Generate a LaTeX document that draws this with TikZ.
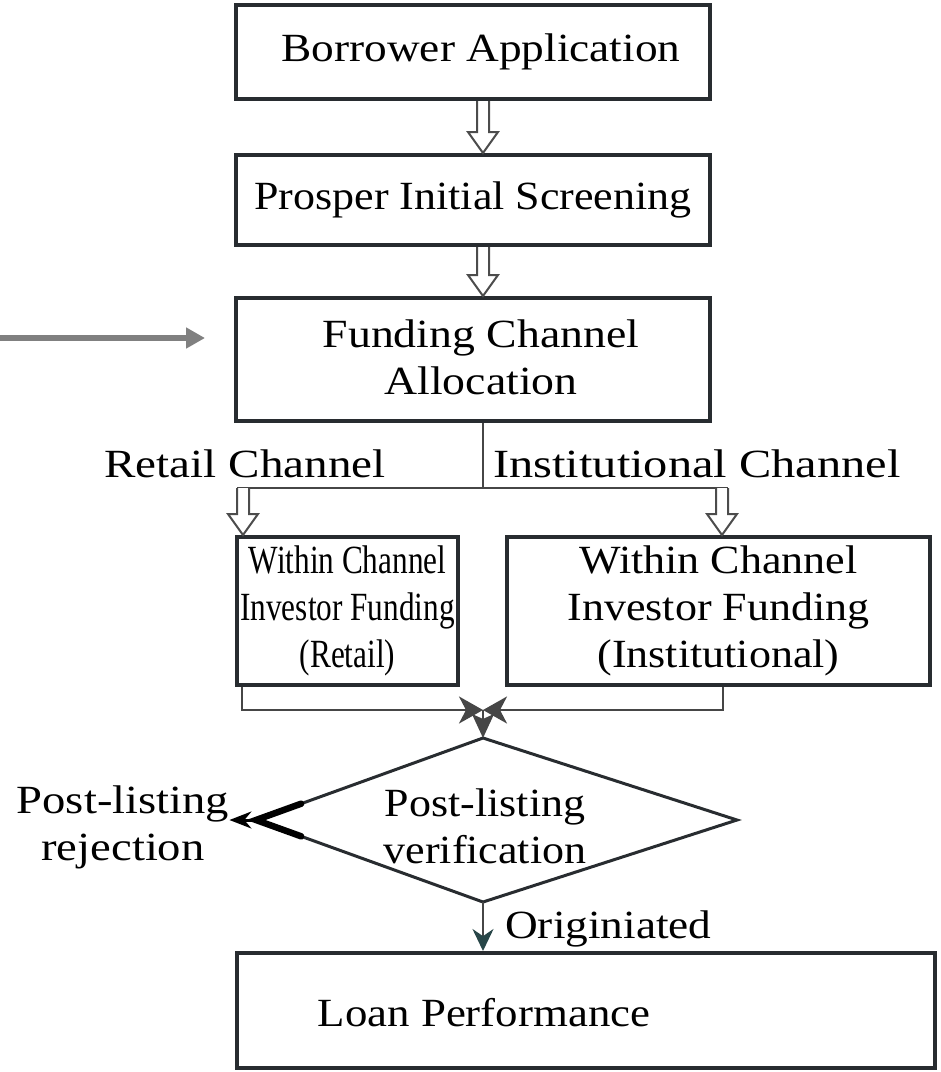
\documentclass[tikz,border=0pt]{standalone}
\usepackage{graphicx}
\usepackage{fontspec}
\setmainfont{Liberation Serif}[FakeStretch=1.1]
\usetikzlibrary{arrows.meta,shapes.geometric,calc}
\definecolor{boxline}{RGB}{40,44,48}
\definecolor{thinline}{RGB}{70,70,70}
\definecolor{grayarrow}{RGB}{128,128,128}
\definecolor{tealhead}{RGB}{40,70,72}
\newcommand\hollowarr[2]{%
  \draw[hollowarrow] ([xshift=-6pt]#1) -- ([xshift=-6pt,yshift=21pt]#2) -- ([xshift=-15pt,yshift=21pt]#2) -- (#2) -- ([xshift=15pt,yshift=21pt]#2) -- ([xshift=6pt,yshift=21pt]#2) -- ([xshift=6pt]#1);}
\begin{document}
\begin{tikzpicture}[x=1pt,y=-1pt,
  font=\fontsize{40}{47}\selectfont,
  box/.style={draw=boxline, line width=4pt, inner sep=0pt, align=center},
  lbl/.style={inner sep=0pt, align=center},
  hollowarrow/.style={draw=black!70, line width=2pt, fill=white, line join=miter},
  conn/.style={draw=thinline, line width=2.5pt},
  headarrow/.style={-{Stealth[length=24pt,width=27pt,inset=7pt]}}]
\useasboundingbox (0,0) rectangle (941,1072);

% boxes
\node[box, minimum width=474pt, minimum height=94pt] (bor) at (473,52) {};
\node[lbl] (bortxt) at (481,52) {\scalebox{1.03}[1]{Borrower Application}};
\node[box, minimum width=474pt, minimum height=90pt] (pro) at (473,200) {Prosper Initial Screening};
\node[box, minimum width=474pt, minimum height=123pt] (fund) at (473,359.5) {};
\node[lbl] (fundtxt) at (481,362) {\scalebox{1.04}[1]{\begin{tabular}{@{}c@{}}Funding Channel\\Allocation\end{tabular}}};
\node[box, minimum width=221pt, minimum height=148pt] (ret) at (347.5,611) {\scalebox{0.71}[1]{\begin{tabular}{@{}c@{}}Within Channel\\Investor Funding\\(Retail)\end{tabular}}};
\node[box, minimum width=423pt, minimum height=148pt] (inst) at (718.5,611) {Within Channel\\Investor Funding\\(Institutional)};
\node[box, minimum width=698pt, minimum height=115pt] (loan) at (586,1010.5) {};
\node[lbl] (loantxt) at (484,1013) {\scalebox{1.02}[1]{Loan Performance}};

% diamond
\coordinate (vt) at (483,738);
\coordinate (vr) at (737,820);
\coordinate (vb) at (483,902);
\coordinate (vl) at (256,820);
\draw[boxline, line width=3pt, line join=miter] (vt) -- (vr) -- (vb) -- (vl) -- cycle;
\node[lbl] (vertxt) at (485,826) {Post-listing\\verification};

% labels
\node[lbl, anchor=base] (retlbl) at (245,477) {\scalebox{1.07}[1]{Retail Channel}};
\node[lbl, anchor=base] (instlbl) at (697,477) {\scalebox{1.10}[1]{Institutional Channel}};
\node[lbl] (rej) at (123,828) {\scalebox{1.06}[1]{\begin{tabular}{@{}c@{}}Post-listing\\rejection\end{tabular}}};
\node[lbl, anchor=base west] (orig) at (505,938) {\scalebox{1.03}[1]{Originiated}};

% axis coordinates
\coordinate (ax) at (483,0);
\coordinate (h1t) at (ax |- bor.south);
\coordinate (h1b) at (ax |- pro.north);
\coordinate (h2t) at (ax |- pro.south);
\coordinate (h2b) at (ax |- fund.north);
\hollowarr{h1t}{h1b}
\hollowarr{h2t}{h2b}

% split
\coordinate (split) at (483,488);
\coordinate (sl) at (237,488);
\coordinate (sr) at (728,488);
\coordinate (rx) at (243,488);
\coordinate (ix) at (722,488);
\draw[conn] (split |- fund.south) -- (split);
\draw[conn] (sl) -- (sr);
\coordinate (h3b) at (rx |- ret.north);
\coordinate (h4b) at (ix |- inst.north);
\hollowarr{rx}{h3b}
\hollowarr{ix}{h4b}

% merge
\coordinate (ml) at (242,710);
\coordinate (mr) at (723,710);
\coordinate (mc) at (483,710);
\draw[conn, headarrow] (ml |- ret.south) -- (ml) -- (mc);
\draw[conn, headarrow] (mr |- inst.south) -- (mr) -- (mc);
\draw[conn, -{Stealth[length=24pt,width=22pt,inset=5pt]}] (mc) -- (vt);

% rejection
\draw[black, line width=6.5pt, line join=miter, line cap=round] ($(vl)!48pt!(vt)$) -- (vl) -- ($(vl)!48pt!(vb)$);
\coordinate (rs) at ([xshift=-3pt]vl);
\draw[line width=3pt, -{Stealth[length=22pt,width=17pt]}] (rs) -- (rs -| rej.east);

% originated
\draw[conn, -{Stealth[length=22pt,width=21pt,color=tealhead]}] (vb) -- (vb |- loan.north);

% gray arrow
\coordinate (gs) at (0,338);
\coordinate (ge) at (205,338);
\draw[grayarrow, line width=6pt, -{Triangle[length=19pt,width=20pt]}] (gs) -- (ge);
\end{tikzpicture}
\end{document}
